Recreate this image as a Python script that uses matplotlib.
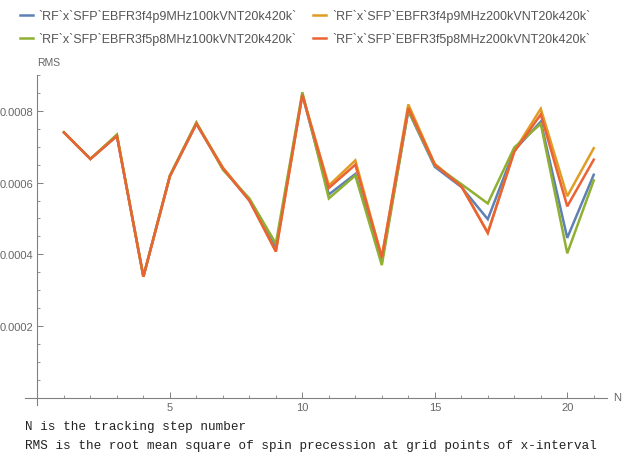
import numpy as np
import matplotlib
matplotlib.use('Agg')
import matplotlib.pyplot as plt
from matplotlib.ticker import MultipleLocator, FixedLocator, FuncFormatter

# datos
N = list(range(1, 22))

rms_f4p9_100k = [0.000740, 0.000666, 0.000730, 0.000338, 0.000618, 0.000764, 0.000640,
                 0.000550, 0.000418, 0.000845, 0.000567, 0.000624, 0.000380, 0.000800,
                 0.000644, 0.000588, 0.000498, 0.000690, 0.000770, 0.000446, 0.000622]
rms_f4p9_200k = [0.000740, 0.000666, 0.000732, 0.000338, 0.000618, 0.000766, 0.000642,
                 0.000552, 0.000408, 0.000845, 0.000592, 0.000662, 0.000392, 0.000818,
                 0.000652, 0.000592, 0.000460, 0.000688, 0.000806, 0.000562, 0.000696]
rms_f5p8_100k = [0.000740, 0.000666, 0.000734, 0.000338, 0.000620, 0.000768, 0.000636,
                 0.000556, 0.000430, 0.000852, 0.000556, 0.000620, 0.000370, 0.000802,
                 0.000648, 0.000596, 0.000542, 0.000698, 0.000764, 0.000403, 0.000606]
rms_f5p8_200k = [0.000740, 0.000666, 0.000730, 0.000338, 0.000618, 0.000764, 0.000640,
                 0.000550, 0.000408, 0.000845, 0.000585, 0.000650, 0.000392, 0.000808,
                 0.000650, 0.000590, 0.000460, 0.000686, 0.000790, 0.000534, 0.000664]

etiquetas = ["`RF`x`SFP`EBFR3f4p9MHz100kVNT20k420k`",
             "`RF`x`SFP`EBFR3f4p9MHz200kVNT20k420k`",
             "`RF`x`SFP`EBFR3f5p8MHz100kVNT20k420k`",
             "`RF`x`SFP`EBFR3f5p8MHz200kVNT20k420k`"]
colores = ['#5E81B5', '#E19C24', '#8FB032', '#EB6235']
series = [rms_f4p9_100k, rms_f4p9_200k, rms_f5p8_100k, rms_f5p8_200k]

plt.rcParams['font.family'] = ['Liberation Sans', 'DejaVu Sans']

fig = plt.figure(figsize=(6.23, 4.56), dpi=100)
ax = fig.add_axes([0.0401, 0.1096, 0.9342, 0.7237])

lineas = []
for s, c, lab in zip(series, colores, etiquetas):
    l, = ax.plot(N, s, color=c, linewidth=1.8, label=lab, solid_joinstyle='miter')
    lineas.append(l)

ax.set_xlim(-0.47, 21.5)
ax.set_ylim(-0.00002, 0.0009)

gris = '#808080'
for lado in ['top', 'right']:
    ax.spines[lado].set_visible(False)
ax.spines['left'].set_position(('data', 0))
ax.spines['bottom'].set_position(('data', 0))
for lado in ['left', 'bottom']:
    ax.spines[lado].set_color(gris)
    ax.spines[lado].set_linewidth(0.8)

ax.xaxis.set_major_locator(FixedLocator([5, 10, 15, 20]))
ax.xaxis.set_minor_locator(MultipleLocator(1))
ax.yaxis.set_major_locator(FixedLocator([0.0002, 0.0004, 0.0006, 0.0008]))
ax.yaxis.set_minor_locator(MultipleLocator(0.00005))
ax.yaxis.set_major_formatter(FuncFormatter(lambda v, p: '%.4f' % v))
ax.tick_params(which='major', direction='in', length=4, width=0.7, color=gris,
               labelsize=8, labelcolor='#666666', pad=3)
ax.tick_params(which='minor', direction='in', length=2, width=0.6, color=gris)

fig.text(37 / 623, 1 - 63 / 456, 'RMS', fontsize=7.5, color='#666666',
         ha='left', va='center')
fig.text(613 / 623, 1 - 398 / 456, 'N', fontsize=8, color='#666666',
         ha='left', va='center')

# la leyenda se llena por columnas: azul, verde | naranja, rojo
orden = [0, 2, 1, 3]
fig.legend(handles=[lineas[i] for i in orden], loc='upper left',
           bbox_to_anchor=(20 / 623, 1 - 10 / 456), ncol=2, frameon=False,
           fontsize=9, handlelength=1.0, handletextpad=0.5, columnspacing=1.3,
           labelspacing=0.8, borderpad=0, borderaxespad=0, labelcolor='#555555')

fig.text(25 / 623, 1 - 427 / 456, 'N is the tracking step number',
         family='Liberation Mono', fontsize=9.1, color='#222222', va='center')
fig.text(25 / 623, 1 - 446 / 456,
         'RMS is the root mean square of spin precession at grid points of x-interval',
         family='Liberation Mono', fontsize=9.1, color='#222222', va='center')

plt.savefig('out.png', dpi=100)
